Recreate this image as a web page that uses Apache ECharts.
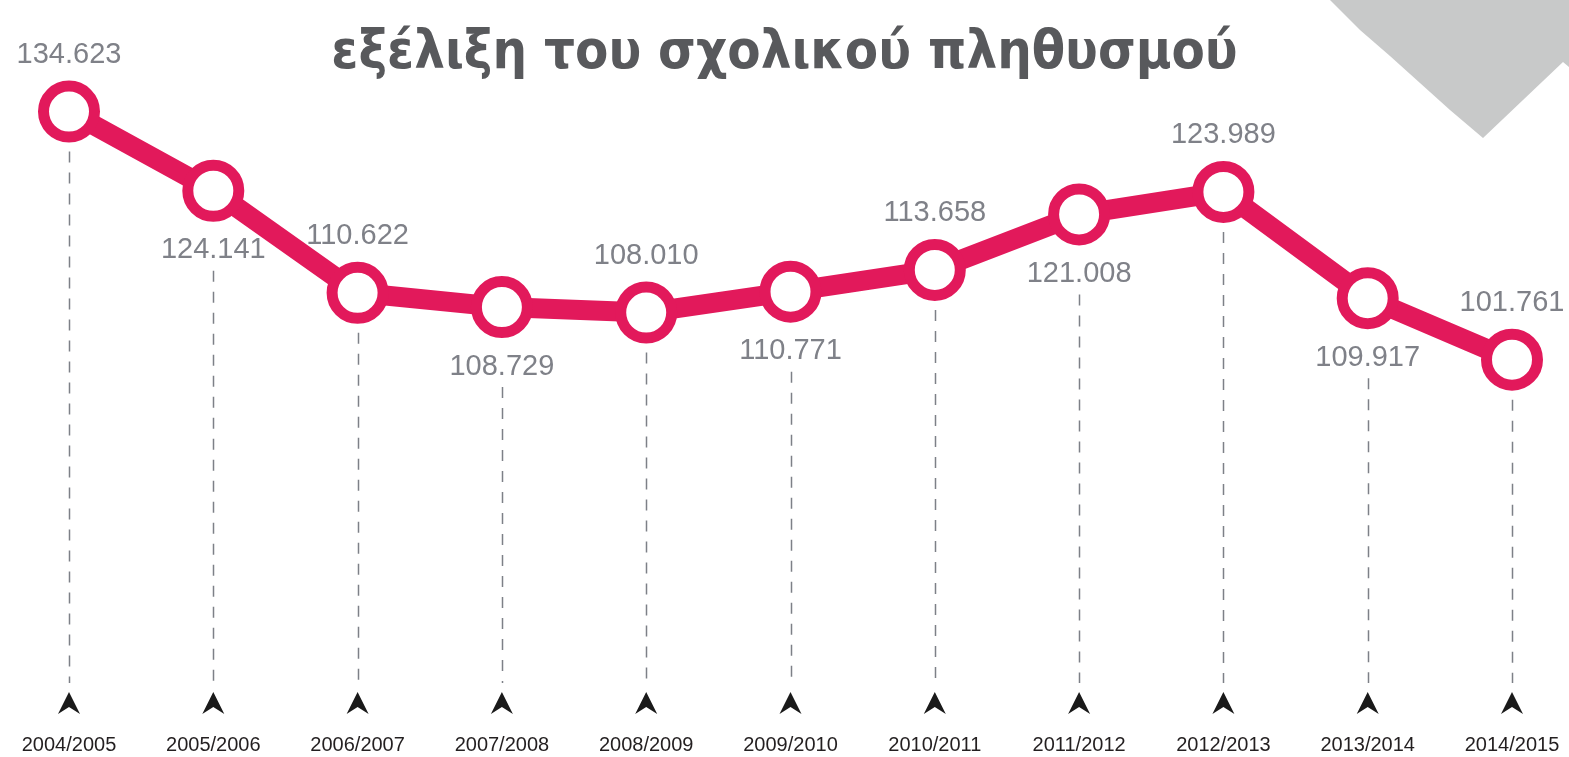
<!DOCTYPE html>
<html>
<head>
<meta charset="utf-8">
<script src="https://cdn.jsdelivr.net/npm/echarts@6/dist/echarts.min.js"></script>
<style>
html,body{margin:0;padding:0;background:#fff;}
#chart{width:1569px;height:757px;}
</style>
</head>
<body>
<div id="chart"></div>
<script>
var titleText = 'εξέλιξη του σχολικού πληθυσμού';
var categories = ['2004/2005','2005/2006','2006/2007','2007/2008','2008/2009','2009/2010','2010/2011','2011/2012','2012/2013','2013/2014','2014/2015'];
var values = [134623, 124141, 110622, 108729, 108010, 110771, 113658, 121008, 123989, 109917, 101761];
var labelSides = ['top','bottom','top','bottom','top','bottom','top','bottom','top','bottom','top'];

var PINK = '#e2195b';
function fmt(v){
  var s = String(v);
  return s.replace(/\B(?=(\d{3})+(?!\d))/g, '.');
}

var chart = echarts.init(document.getElementById('chart'));

var lineData = values.map(function(v, i){
  return {
    value: v,
    label: {
      position: labelSides[i],
      distance: labelSides[i] === 'top' ? 11 : 14
    }
  };
});

var guideData = values.map(function(v, i){ return [i, v, labelSides[i] === 'top' ? 0 : 1]; });

var option = {
  backgroundColor: '#ffffff',
  animation: false,
  title: {
    text: titleText,
    left: 'center',
    top: 22,
    textStyle: {
      fontFamily: '"DejaVu Sans Condensed", "DejaVu Sans", sans-serif',
      fontWeight: 'bold',
      fontSize: 54,
      color: '#58595c'
    }
  },
  graphic: [{
    type: 'polygon',
    z: -10,
    shape: {
      points: [[1330,0],[1360,30],[1390,56],[1420,83],[1450,110],[1483,138],[1563,62],[1569,67],[1569,0]]
    },
    style: { fill: '#c8c9c9' }
  }],
  grid: { left: 69, right: 57, top: 71, bottom: 82, containLabel: false },
  xAxis: {
    type: 'category',
    data: categories,
    boundaryGap: false,
    axisLine: { show: false },
    axisTick: { show: false },
    splitLine: { show: false },
    axisLabel: {
      margin: 60,
      fontFamily: 'Liberation Sans',
      fontSize: 20,
      color: '#231f20'
    }
  },
  yAxis: {
    type: 'value',
    min: 60000,
    max: 140000,
    show: false
  },
  series: [{
    type: 'custom',
    z: 1,
    silent: true,
    data: guideData,
    renderItem: function(params, api){
      var p = api.coord([api.value(0), api.value(1)]);
      var below = api.value(2) === 1;
      var y0 = p[1] + (below ? 80 : 40);
      var y1 = 683;
      var x = Math.round(p[0]) + 0.5;
      return {
        type: 'group',
        children: [{
          type: 'line',
          shape: { x1: x, y1: y0, x2: x, y2: y1 },
          style: { stroke: '#7d8087', lineWidth: 1.5, lineDash: [11, 10] }
        }, {
          type: 'polygon',
          shape: { points: [[p[0], 692], [p[0] + 11, 714], [p[0], 707], [p[0] - 11, 714]] },
          style: { fill: '#1a1a1a' }
        }]
      };
    }
  }, {
    type: 'line',
    z: 3,
    data: lineData,
    symbol: 'circle',
    symbolSize: 51,
    showAllSymbol: true,
    lineStyle: { color: PINK, width: 20 },
    itemStyle: { color: '#ffffff', borderColor: PINK, borderWidth: 11 },
    label: {
      show: true,
      formatter: function(p){ return fmt(p.value); },
      fontFamily: 'Liberation Sans',
      fontSize: 29,
      color: '#7f8188'
    },
    emphasis: { disabled: true }
  }]
};
chart.setOption(option);
</script>
</body>
</html>
